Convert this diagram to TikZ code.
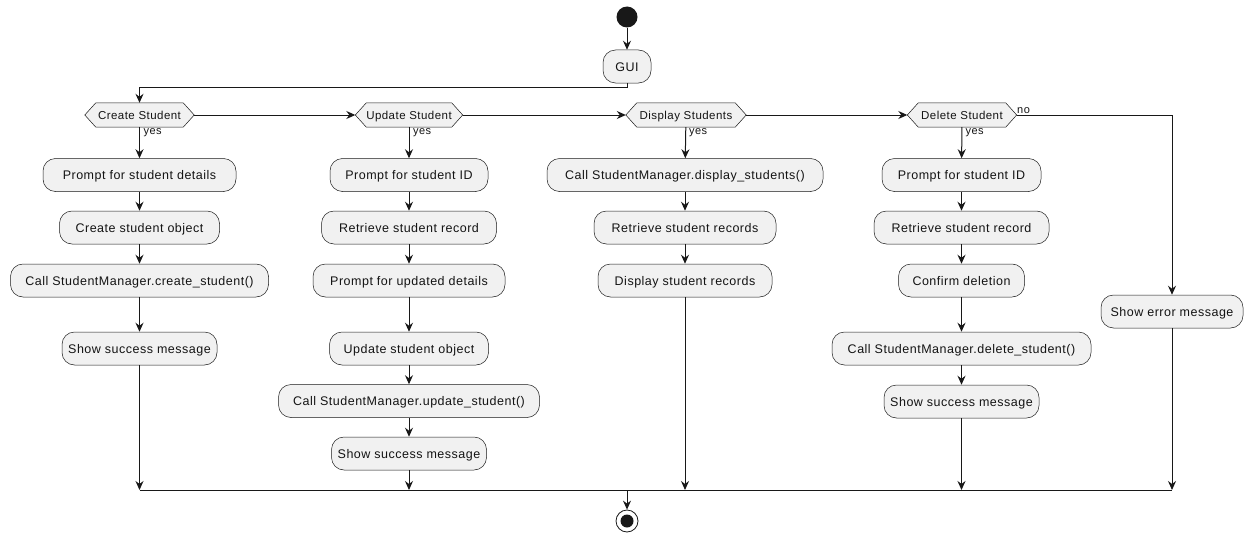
\documentclass[tikz,border=0pt]{standalone}
\usepackage{fontspec}
\setmainfont{Liberation Sans}[LetterSpace=4]
\usetikzlibrary{arrows.meta,backgrounds}
\definecolor{lineclr}{HTML}{181818}
\definecolor{boxfill}{HTML}{F1F1F1}
\definecolor{txt}{HTML}{141414}
\tikzset{
  act/.style={draw=lineclr, line width=0.5pt, fill=boxfill, rounded corners=12.5pt,
    minimum height=33pt, inner sep=0pt, text height=9pt, text depth=0pt,
    text=txt, font=\fontsize{12.5}{15}\selectfont},
  dec/.style={minimum height=24pt, inner sep=0pt, text height=8.2pt, text depth=0pt,
    text=txt, font=\fontsize{11.5}{14}\selectfont},
  hexa/.style={draw=lineclr, line width=0.5pt, fill=boxfill},
  flow/.style={draw=lineclr, line width=1pt, -{Stealth[length=9pt,width=8pt,inset=3pt]}},
  wire/.style={draw=lineclr, line width=1pt},
  lbl/.style={inner sep=0pt, text=txt, font=\fontsize{11}{13}\selectfont},
}
\begin{document}
\begin{tikzpicture}[x=1pt,y=-1pt]
\useasboundingbox (0,0) rectangle (1255,543);

% start and entry
\node[circle, fill=lineclr, minimum size=21pt, inner sep=0pt] (start) at (627,17) {};
\node[act, minimum width=48pt] (gui) at (627,66.5) {GUI};
\coordinate (split) at (627,87);

% decisions
\node[dec, minimum width=109pt] (cs) at (139.5,115) {Create Student};
\node[dec, minimum width=107pt] (us) at (409,115) {Update Student};
\node[dec, minimum width=120pt] (dsp) at (686,115) {Display Students};
\node[dec, minimum width=109pt] (dl) at (962,115) {Delete Student};
\begin{scope}[on background layer]
\foreach \n in {cs,us,dsp,dl}{
  \draw[hexa] (\n.west) -- ([xshift=11pt]\n.north west) -- ([xshift=-11pt]\n.north east)
    -- (\n.east) -- ([xshift=-11pt]\n.south east) -- ([xshift=11pt]\n.south west) -- cycle;
}
\end{scope}

% create branch
\node[act, minimum width=193pt] (c1) at (139.5,175) {Prompt for student details};
\node[act, minimum width=160pt] (c2) at (139.5,227.5) {Create student object};
\node[act, minimum width=258pt] (c3) at (139.5,280.5) {Call StudentManager.create\_student()};
\node[act, minimum width=155pt] (c4) at (139.5,348.5) {Show success message};

% update branch
\node[act, minimum width=158pt] (u1) at (409,175) {Prompt for student ID};
\node[act, minimum width=175pt] (u2) at (409,227.5) {Retrieve student record};
\node[act, minimum width=192pt] (u3) at (409,280.5) {Prompt for updated details};
\node[act, minimum width=159pt] (u4) at (409,348.5) {Update student object};
\node[act, minimum width=261pt] (u5) at (409,401) {Call StudentManager.update\_student()};
\node[act, minimum width=155pt] (u6) at (409,453.5) {Show success message};

% display branch
\node[act, minimum width=276pt] (d1) at (685,175) {Call StudentManager.display\_students()};
\node[act, minimum width=182pt] (d2) at (685,227.5) {Retrieve student records};
\node[act, minimum width=174pt] (d3) at (685,280.5) {Display student records};

% delete branch
\node[act, minimum width=159pt] (x1) at (961.5,175) {Prompt for student ID};
\node[act, minimum width=175pt] (x2) at (961.5,227.5) {Retrieve student record};
\node[act, minimum width=126pt] (x3) at (961.5,280.5) {Confirm deletion};
\node[act, minimum width=259pt] (x4) at (961.5,348.5) {Call StudentManager.delete\_student()};
\node[act, minimum width=155pt] (x5) at (961.5,401.5) {Show success message};

% fallback
\node[act, minimum width=142pt] (err) at (1172,311.5) {Show error message};

% merge and end
\coordinate (m1) at (139.5,490);
\coordinate (m2) at (409,490);
\coordinate (m3) at (685,490);
\coordinate (m4) at (961.5,490);
\coordinate (m5) at (1172,490);
\coordinate (mc) at (627,490);
\node[circle, draw=lineclr, line width=0.8pt, fill=white, minimum size=22pt, inner sep=0pt] (stop) at (627,521) {};
\fill[lineclr] (stop.center) circle (6.5pt);

% connectors
\draw[flow] (start) -- (gui);
\draw[flow] (gui) -- (split) -| (cs);
\draw[flow] (cs) -- (us);
\draw[flow] (us) -- (dsp);
\draw[flow] (dsp) -- (dl);
\draw[flow] (dl) -| (err);

\draw[flow] (cs) -- (c1);
\draw[flow] (c1) -- (c2);
\draw[flow] (c2) -- (c3);
\draw[flow] (c3) -- (c4);
\draw[flow] (c4) -- (m1);

\draw[flow] (us) -- (u1);
\draw[flow] (u1) -- (u2);
\draw[flow] (u2) -- (u3);
\draw[flow] (u3) -- (u4);
\draw[flow] (u4) -- (u5);
\draw[flow] (u5) -- (u6);
\draw[flow] (u6) -- (m2);

\draw[flow] (dsp) -- (d1);
\draw[flow] (d1) -- (d2);
\draw[flow] (d2) -- (d3);
\draw[flow] (d3) -- (m3);

\draw[flow] (dl) -- (x1);
\draw[flow] (x1) -- (x2);
\draw[flow] (x2) -- (x3);
\draw[flow] (x3) -- (x4);
\draw[flow] (x4) -- (x5);
\draw[flow] (x5) -- (m4);

\draw[flow] (err) -- (m5);
\draw[wire] (m1) -- (m5);
\draw[flow] (mc) -- (stop);

% branch labels
\node[lbl, anchor=west] at (143.5,133) {yes};
\node[lbl, anchor=west] at (413,133) {yes};
\node[lbl, anchor=west] at (689,133) {yes};
\node[lbl, anchor=west] at (965.5,133) {yes};
\node[lbl, anchor=south west] at (1017,114) {no};
\end{tikzpicture}
\end{document}
